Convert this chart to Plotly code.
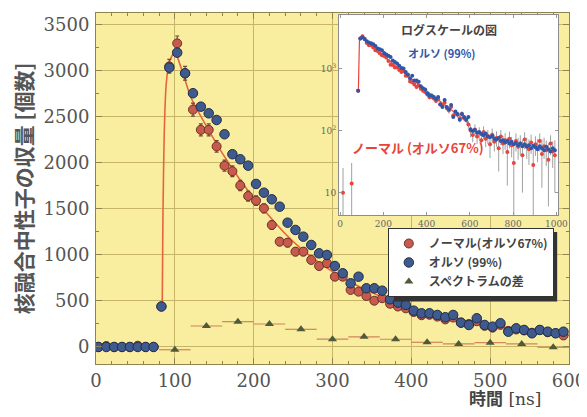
import plotly.graph_objects as go

# ---------------- data ----------------
time_ns = [3, 13, 23, 33, 43, 53, 63, 73, 83, 93, 103, 113, 123, 133, 143, 153, 163, 173, 183, 193,
           203, 213, 223, 233, 243, 253, 263, 273, 283, 293, 303, 313, 323, 333, 343, 353, 363, 373, 383, 393,
           403, 413, 423, 433, 443, 453, 463, 473, 483, 493, 503, 513, 523, 533, 543, 553, 563, 573, 583, 593]

normal_counts = [0, 10, 0, 0, 0, 14, 0, 0, 440, 3050, 3300, 2975, 2580, 2360, 2360, 2180, 1970, 1910, 1755, 1640,
                 1590, 1507, 1326, 1145, 1134, 1036, 1036, 946, 880, 910, 764, 764, 620, 601, 554, 503, 530, 470, 440, 420,
                 380, 345, 350, 330, 300, 320, 265, 250, 280, 230, 210, 240, 175, 190, 180, 155, 185, 160, 150, 125]

normal_err = [12, 15, 12, 12, 12, 16, 12, 12, 30, 75, 80, 75, 70, 65, 65, 62, 60, 58, 56, 54,
              52, 50, 48, 45, 45, 43, 43, 41, 40, 40, 37, 37, 35, 34, 33, 32, 32, 30, 29, 29,
              28, 27, 27, 26, 25, 26, 24, 23, 24, 22, 22, 23, 20, 21, 20, 19, 20, 19, 19, 17]

ortho_counts = [0, 0, 0, 0, 0, 0, 0, 0, 440, 3036, 3199, 2975, 2758, 2612, 2540, 2467, 2312, 2095, 2040, 1971,
                1772, 1677, 1605, 1525, 1351, 1272, 1199, 1109, 1018, 1000, 880, 801, 692, 764, 638, 638, 612, 518, 482, 457,
                395, 366, 366, 348, 323, 348, 264, 239, 312, 239, 221, 258, 166, 203, 185, 149, 185, 166, 149, 166]

diff_t = [100, 140, 180, 220, 260, 300, 340, 380, 420, 460, 500, 540, 580]
diff_counts = [-30, 228, 275, 250, 192, 85, 110, 84, 51, 33, 47, 33, -3]
diff_halfwidth = [20, 20, 20, 20, 20, 20, 20, 20, 20, 20, 20, 20, 20]

fit_t = [84, 85, 86.5, 89, 93, 100, 110, 120, 140, 160, 180, 200, 220, 240, 260, 280, 300, 320, 340, 360,
         380, 400, 420, 440, 460, 480, 500, 520, 540, 560, 580, 600]
fit_counts = [440, 1500, 2300, 2850, 3100, 3210, 2980, 2720, 2400, 2110, 1850, 1620, 1420, 1230, 1070, 935, 820, 720, 630, 555,
              490, 430, 380, 337, 300, 265, 235, 208, 185, 163, 144, 127]

# inset (log scale) extends to 1000 ns
tail_t = [603, 613, 623, 633, 643, 653, 663, 673, 683, 693, 703, 713, 723, 733, 743, 753, 763, 773, 783, 793,
          803, 813, 823, 833, 843, 853, 863, 873, 883, 893, 903, 913, 923, 933, 943, 953, 963, 973, 983, 993]
ortho_tail = [105, 98, 102, 92, 95, 88, 84, 90, 80, 78, 82, 74, 72, 76, 68, 70, 64, 68, 62, 66,
              60, 63, 58, 62, 56, 60, 55, 58, 52, 57, 54, 50, 56, 52, 48, 55, 50, 46, 52, 48]
normal_tail = [100, 85, 104, 80, 92, 70, 95, 74, 82, 60, 86, 66, 76, 52, 80, 62, 70, 45, 74, 58,
               30, 68, 55, 62, 40, 72, 56, 50, 64, 28, 60, 52, 68, 42, 56, 48, 34, 62, 46, 40]
normal_tail_err = [22, 20, 22, 20, 21, 19, 22, 20, 21, 24, 22, 20, 21, 30, 22, 20, 21, 32, 22, 21,
                   28, 22, 21, 22, 30, 22, 21, 22, 22, 26, 21, 21, 22, 30, 21, 21, 28, 22, 21, 30]

x_ticks = [0, 100, 200, 300, 400, 500, 600]
y_ticks = [0, 500, 1000, 1500, 2000, 2500, 3000, 3500]
inset_x_ticks = [0, 200, 400, 600, 800, 1000]
inset_y_ticks = [10, 100, 1000]
inset_y_labels = ["10", "10<sup>2</sup>", "10<sup>3</sup>"]

# ---------------- styling ----------------
YELLOW = "#f9ed9f"
GRID = "#c6b567"
FRAME = "#8f8450"
RED_FILL = "#c65a4c"
RED_EDGE = "#6e3327"
BLUE_FILL = "#3f5a8c"
BLUE_EDGE = "#1f2d4d"
JP = "Noto Sans CJK JP"
SERIF = "DejaVu Serif"

fig = go.Figure()

# main panel
fig.add_trace(go.Scatter(x=fit_t, y=fit_counts, mode="lines", showlegend=False, hoverinfo="skip",
                         line=dict(color="#e8653c", width=1.6, shape="spline", smoothing=0.5)))
fig.add_trace(go.Scatter(x=diff_t, y=diff_counts, mode="markers", name="スペクトラムの差", legendrank=3,
                         marker=dict(symbol="triangle-up", size=8, color="#4f5a3a"),
                         error_x=dict(type="data", array=diff_halfwidth, color="#d2825a", thickness=1.2, width=0)))
fig.add_trace(go.Scatter(x=time_ns, y=normal_counts, mode="markers", name="ノーマル(オルソ67%)", legendrank=1,
                         marker=dict(size=9, color=RED_FILL, line=dict(color=RED_EDGE, width=1)),
                         error_y=dict(type="data", array=normal_err, color="#6e4a30", thickness=1.2, width=2)))
fig.add_trace(go.Scatter(x=time_ns, y=ortho_counts, mode="markers", name="オルソ (99%)", legendrank=2,
                         marker=dict(size=9.5, color=BLUE_FILL, line=dict(color=BLUE_EDGE, width=1))))

# inset panel
fig.add_trace(go.Scatter(x=fit_t, y=fit_counts, mode="lines", xaxis="x2", yaxis="y2", showlegend=False,
                         hoverinfo="skip", line=dict(color="#e8453a", width=1.2)))
fig.add_trace(go.Scatter(x=time_ns + tail_t, y=normal_counts + normal_tail, mode="markers", xaxis="x2", yaxis="y2",
                         showlegend=False, marker=dict(size=4, color="#e8453a"),
                         error_y=dict(type="data", array=normal_err + normal_tail_err, color="#a0a0a0",
                                      thickness=1, width=0)))
fig.add_trace(go.Scatter(x=time_ns + tail_t, y=ortho_counts + ortho_tail, mode="markers", xaxis="x2", yaxis="y2",
                         showlegend=False, marker=dict(size=4, color="#2f56a8")))

axis_common = dict(ticks="inside", ticklen=6, tickcolor=FRAME, showline=True, linecolor=FRAME, linewidth=1,
                   mirror="ticks", zeroline=False, showgrid=True, gridcolor=GRID, gridwidth=1, automargin=False,
                   tickfont=dict(family=SERIF, size=18, color="#555"))
inset_common = dict(ticks="inside", ticklen=3, tickcolor="#999", showline=True, linecolor="#8c8c8c",
                    mirror="ticks", showgrid=False, zeroline=False, automargin=False,
                    tickfont=dict(family=SERIF, size=9, color="#666"))

# the page body has an 8 px margin, so the figure is 8 px smaller than the window
fig.update_layout(
    width=579, height=409,
    margin=dict(l=88, r=18, t=5, b=53),
    paper_bgcolor="white", plot_bgcolor="white",
    xaxis=dict(domain=[0, 1], range=[0, 600], tickvals=x_ticks,
               minor=dict(dtick=20, ticks="inside", ticklen=3, tickcolor=FRAME, showgrid=False),
               **axis_common),
    yaxis=dict(domain=[0, 1], range=[-185, 3630], tickvals=y_ticks, ticklabelstandoff=2,
               minor=dict(dtick=250, ticks="inside", ticklen=3, tickcolor=FRAME, showgrid=False),
               title=dict(text="核融合中性子の収量 [個数]", standoff=10,
                          font=dict(family=JP, size=21, color="#555", weight="bold")),
               **axis_common),
    xaxis2=dict(domain=[0.514, 0.977], anchor="y2", range=[-5, 1008], tickvals=inset_x_ticks, **inset_common),
    yaxis2=dict(domain=[0.4245, 0.994], anchor="x2", type="log", range=[0.64, 3.86],
                tickvals=inset_y_ticks, ticktext=inset_y_labels, **inset_common),
    legend=dict(x=0.617, y=0.3875, xanchor="left", yanchor="top", bgcolor="white",
                bordercolor="#333", borderwidth=1, traceorder="normal", tracegroupgap=0,
                font=dict(family=JP, size=12, color="#444", weight="bold")),
    shapes=[
        dict(type="rect", xref="paper", yref="paper", x0=0, x1=1, y0=0, y1=1,
             fillcolor=YELLOW, line=dict(width=0), layer="below"),
        dict(type="rect", xref="paper", yref="paper", x0=0.63, x1=0.975, y0=0.178, y1=0.376,
             fillcolor="#333", line=dict(width=0), layer="above"),
    ],
    annotations=[
        dict(text="<b>時間</b> [ns]", xref="paper", yref="paper", x=0.945, y=-0.1,
             xanchor="right", yanchor="middle", showarrow=False,
             font=dict(family=SERIF + ", " + JP, size=17, color="#444")),
        dict(text="ログスケールの図", xref="paper", yref="paper", x=0.746, y=0.9516,
             xanchor="center", yanchor="middle", showarrow=False,
             font=dict(family=JP, size=12, color="#444", weight="bold")),
        dict(text="オルソ (99%)", xref="paper", yref="paper", x=0.7315, y=0.886,
             xanchor="center", yanchor="middle", showarrow=False,
             font=dict(family=JP, size=11, color="#2f56a8", weight="bold")),
        dict(text="ノーマル (オルソ67%)", xref="paper", yref="paper", x=0.681, y=0.618,
             xanchor="center", yanchor="middle", showarrow=False,
             font=dict(family=JP, size=13, color="#e8453a", weight="bold")),
    ],
)

fig.write_html("out.html")
